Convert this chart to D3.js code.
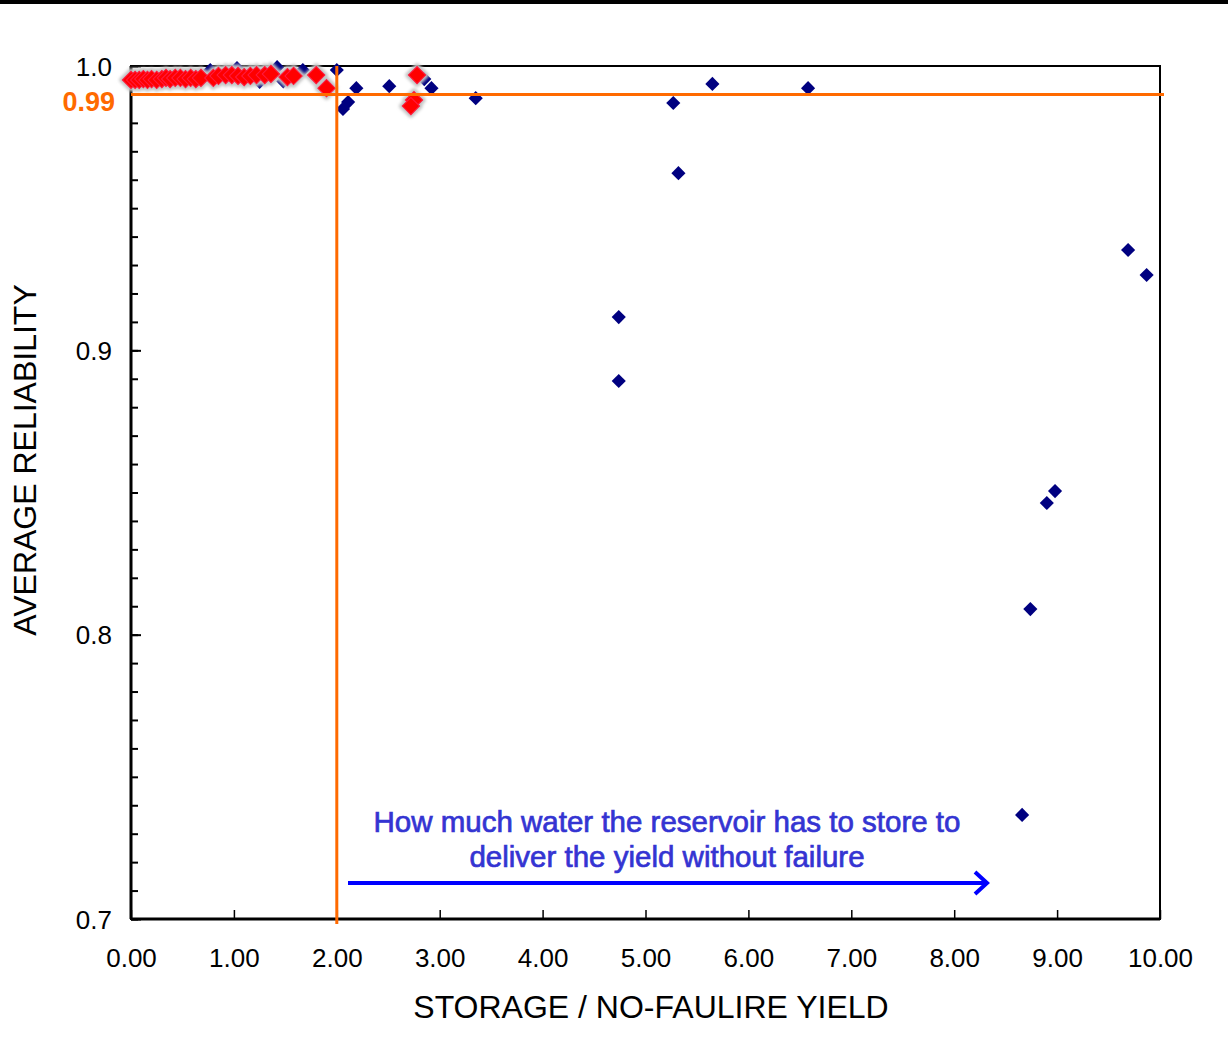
<!DOCTYPE html>
<html>
<head>
<meta charset="utf-8">
<script src="https://cdnjs.cloudflare.com/ajax/libs/d3/7.8.5/d3.min.js"></script>
<style>
  body { margin: 0; background: #fff; }
  svg text { font-family: "Liberation Sans", Arial, sans-serif; }
</style>
</head>
<body>
<svg width="1228" height="1060"></svg>
<script>
// navy series (all runs)
const allX = [0.77, 1.03, 1.25, 1.42, 1.48, 1.67, 2.0, 2.06, 2.11, 2.19, 2.51, 2.85, 2.92, 3.35,
  5.27, 5.32, 5.65, 6.58, 4.74, 4.74, 9.69, 9.87, 8.98, 8.90, 8.74, 8.66];
const allY = [0.9986, 0.9993, 0.9944, 0.9996, 0.9946, 0.9986, 0.9986, 0.9849, 0.9873, 0.9922, 0.9929, 0.9954, 0.9922, 0.9887,
  0.9870, 0.9623, 0.9937, 0.9922, 0.9117, 0.8892, 0.9353, 0.9265, 0.8505, 0.8463, 0.8090, 0.7366];

// red series (storage below ~3)
const redX = [0.00, 0.04, 0.08, 0.12, 0.16, 0.20, 0.25, 0.30, 0.34, 0.38, 0.43, 0.48, 0.53, 0.58, 0.63,
  0.68, 0.80, 0.85, 0.92, 0.98, 1.04, 1.10, 1.16, 1.22, 1.30, 1.36, 1.52, 1.58, 1.80, 1.90, 2.78, 2.75, 2.72];
const redY = [0.9951, 0.9951, 0.9951, 0.9954, 0.9951, 0.9954, 0.9951, 0.9954, 0.9958, 0.9954, 0.9958, 0.9958, 0.9954, 0.9958, 0.9954,
  0.9958, 0.9958, 0.9965, 0.9968, 0.9968, 0.9965, 0.9961, 0.9965, 0.9968, 0.9968, 0.9972, 0.9961, 0.9965, 0.9968, 0.9922, 0.9968, 0.9880, 0.9859];

const xTicks = [0, 1, 2, 3, 4, 5, 6, 7, 8, 9, 10];
const yTicks = [0.7, 0.8, 0.9, 1.0];
const targetStorage = 2.0;
const targetReliability = 0.99;
const noteLines = ["How much water the reservoir has to store to", "deliver the yield without failure"];

const svg = d3.select("svg");
const margin = { top: 66, left: 131 };
const width = 1029, height = 853;

const x = d3.scaleLinear().domain([0, 10]).range([0, width]);
const y = d3.scaleLinear().domain([0.7, 1.0]).range([height, 0]);

// soft halo for the red markers
svg.append("defs").append("filter").attr("id", "halo")
  .attr("x", "-50%").attr("y", "-50%").attr("width", "200%").attr("height", "200%")
  .append("feGaussianBlur").attr("stdDeviation", 1.4);

// black bar at top of the image
svg.append("rect").attr("x", 0).attr("y", 0).attr("width", 1228).attr("height", 4).attr("fill", "#000");

const g = svg.append("g").attr("transform", `translate(${margin.left},${margin.top})`);

// plot frame
g.append("rect").attr("width", width).attr("height", height)
  .attr("fill", "none").attr("stroke", "#000").attr("stroke-width", 2);

// minor y ticks every 0.01
const minorY = d3.range(70, 101).map((d) => d / 100);
g.append("g").call(d3.axisLeft(y).tickValues(minorY).tickSize(-7).tickFormat(""))
  .call((a) => a.select(".domain").remove())
  .selectAll("line").attr("stroke-width", 2);

// major y ticks + labels
const yAxis = g.append("g")
  .call(d3.axisLeft(y).tickValues(yTicks).tickSize(-10).tickPadding(19).tickFormat(d3.format(".1f")));
yAxis.select(".domain").remove();
yAxis.selectAll("line").attr("stroke-width", 2);
yAxis.selectAll("text").attr("font-size", 26).attr("fill", "#000").attr("dy", "0.35em");

// x axis
const xAxis = g.append("g").attr("transform", `translate(0,${height})`)
  .call(d3.axisBottom(x).tickValues(xTicks).tickSize(-9).tickPadding(30).tickFormat(d3.format(".2f")));
xAxis.select(".domain").remove();
xAxis.selectAll("line").attr("stroke-width", 1.5);
xAxis.selectAll("text").attr("font-size", 26).attr("fill", "#000");

// thicker left and bottom axis lines
g.append("line").attr("x1", 0).attr("x2", 0).attr("y1", 0).attr("y2", height).attr("stroke", "#000").attr("stroke-width", 3);
g.append("line").attr("x1", 0).attr("x2", width).attr("y1", height).attr("y2", height).attr("stroke", "#000").attr("stroke-width", 3);

// axis titles
svg.append("text").attr("x", 651).attr("y", 1018).attr("text-anchor", "middle")
  .attr("font-size", 32).text("STORAGE / NO-FAULIRE YIELD");
svg.append("text").attr("transform", "translate(36,460) rotate(-90)").attr("text-anchor", "middle")
  .attr("font-size", 32).text("AVERAGE RELIABILITY");

// points
const diamond = d3.symbol().type(d3.symbolSquare);
const allPts = allX.map((d, i) => ({ x: d, y: allY[i] }));
const redPts = redX.map((d, i) => ({ x: d, y: redY[i] }));

g.append("g").selectAll("path").data(allPts).join("path")
  .attr("d", diamond.size(100))
  .attr("transform", (d) => `translate(${x(d.x)},${y(d.y)}) rotate(45)`)
  .attr("fill", "#000080");

const pos = (d) => `translate(${x(d.x)},${y(d.y)}) rotate(45)`;
g.append("g").attr("filter", "url(#halo)").selectAll("path").data(redPts).join("path")
  .attr("d", diamond.size(150))
  .attr("transform", pos)
  .attr("fill", "#c4c4c4").attr("stroke", "#c4c4c4").attr("stroke-width", 6)
  .attr("stroke-linejoin", "round");
g.append("g").selectAll("path").data(redPts).join("path")
  .attr("d", diamond.size(150))
  .attr("transform", pos)
  .attr("fill", "#ff0000").attr("stroke", "#ff1a40").attr("stroke-width", 1);

// target lines
const orange = "#ff6a00";
g.append("line").attr("x1", 0).attr("x2", width + 4)
  .attr("y1", y(targetReliability)).attr("y2", y(targetReliability))
  .attr("stroke", orange).attr("stroke-width", 3);
g.append("line").attr("x1", x(targetStorage)).attr("x2", x(targetStorage))
  .attr("y1", 0).attr("y2", height + 5)
  .attr("stroke", orange).attr("stroke-width", 3);
g.append("text").attr("x", -16).attr("y", y(targetReliability) + 7).attr("dy", "0.35em")
  .attr("text-anchor", "end").attr("font-size", 27).attr("font-weight", "bold")
  .attr("fill", orange).text(d3.format(".2f")(targetReliability));

// annotation
const blue = "#3434d2";
g.append("g").selectAll("text").data(noteLines).join("text")
  .attr("x", 667 - margin.left).attr("y", (d, i) => 832 - margin.top + i * 35)
  .attr("text-anchor", "middle").attr("font-size", 29.5).attr("fill", blue)
  .attr("stroke", blue).attr("stroke-width", 0.7)
  .text((d) => d);

const arrowY = 883 - margin.top;
g.append("line").attr("x1", 348 - margin.left).attr("x2", 986 - margin.left)
  .attr("y1", arrowY).attr("y2", arrowY).attr("stroke", "#0000ff").attr("stroke-width", 4);
g.append("path")
  .attr("d", `M${975 - margin.left},${arrowY - 11} L${987 - margin.left},${arrowY} L${975 - margin.left},${arrowY + 11}`)
  .attr("fill", "none").attr("stroke", "#0000ff").attr("stroke-width", 4);
</script>
</body>
</html>
